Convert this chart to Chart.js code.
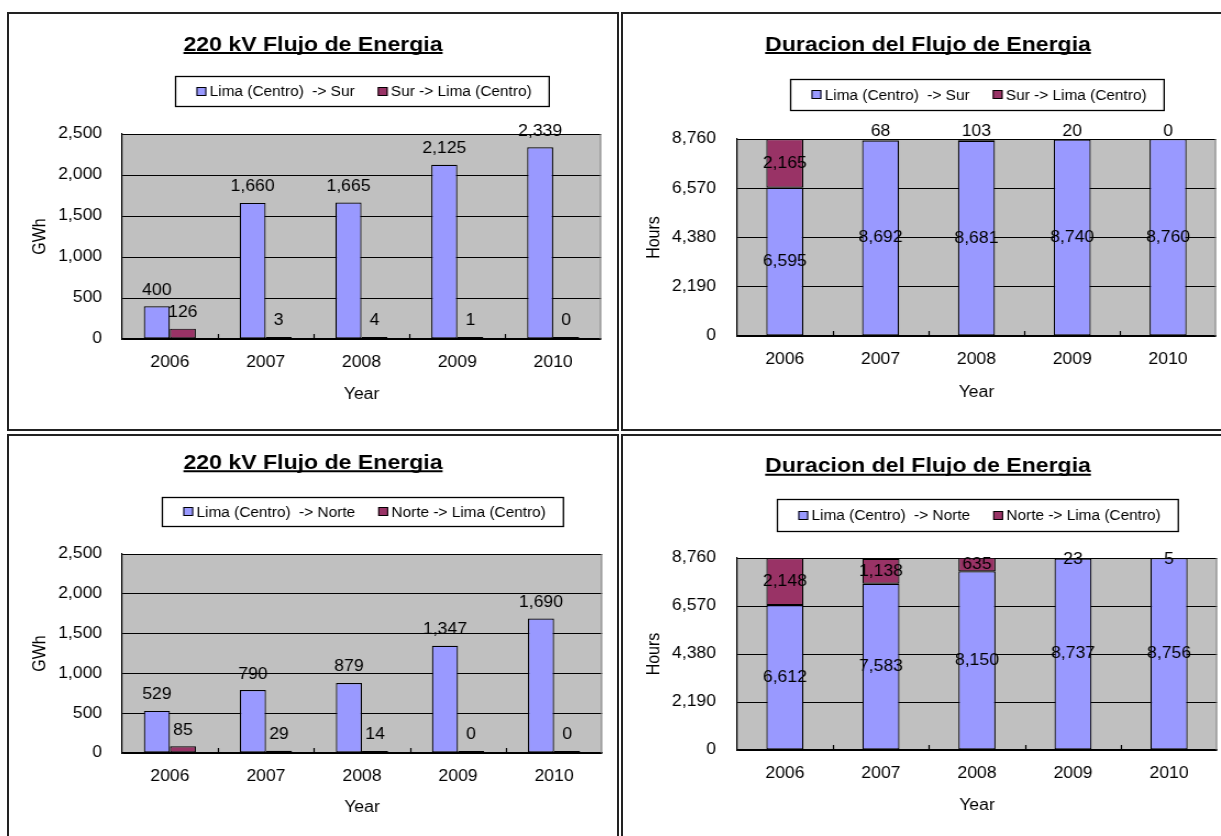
<!DOCTYPE html>
<html>
<head>
<meta charset="utf-8">
<script src="https://cdn.jsdelivr.net/npm/chart.js@4"></script>
<style>
body { margin: 0; background: #fff; width: 1221px; height: 836px; overflow: hidden; position: relative; }
.panel { position: absolute; border: 2px solid #222; box-sizing: border-box; }
canvas { position: absolute; }
</style>
</head>
<body>
<div class="panel" style="left:7px;top:12px;width:612px;height:419px"></div>
<div class="panel" style="left:621px;top:12px;width:614px;height:419px"></div>
<div class="panel" style="left:7px;top:434px;width:612px;height:410px"></div>
<div class="panel" style="left:621px;top:434px;width:614px;height:410px"></div>
<canvas id="c1" width="553" height="415" style="left:9px;top:14px;width:608px;height:415px"></canvas>
<canvas id="c2" width="555" height="415" style="left:623px;top:14px;width:610px;height:415px"></canvas>
<canvas id="c3" width="553" height="400" style="left:9px;top:436px;width:608px;height:400px"></canvas>
<canvas id="c4" width="555" height="400" style="left:623px;top:436px;width:610px;height:400px"></canvas>
<script>
// chart data
const years = ['2006', '2007', '2008', '2009', '2010'];
const limaSurGwh = [400, 1660, 1665, 2125, 2339];
const surLimaGwh = [126, 3, 4, 1, 0];
const limaSurHours = [6595, 8692, 8681, 8740, 8760];
const surLimaHours = [2165, 68, 103, 20, 0];
const limaNorteGwh = [529, 790, 879, 1347, 1690];
const norteLimaGwh = [85, 29, 14, 0, 0];
const limaNorteHours = [6612, 7583, 8150, 8737, 8756];
const norteLimaHours = [2148, 1138, 635, 23, 5];
const gwhTicks = [0, 500, 1000, 1500, 2000, 2500];
const hourTicks = [0, 2190, 4380, 6570, 8760];

const BLUE = '#9999ff';
const RED = '#993366';
const FONT = '"Liberation Sans", Arial, sans-serif';

Chart.defaults.font.family = FONT;
Chart.defaults.color = '#000';

const plotFrame = {
    id: 'plotFrame',
    beforeDraw(chart) {
        const a = chart.chartArea, ctx = chart.ctx;
        ctx.save();
        ctx.fillStyle = '#c0c0c0';
        ctx.fillRect(a.left, a.top, a.right - a.left, a.bottom - a.top);
        ctx.restore();
    },
    beforeDatasetsDraw(chart) {
        const a = chart.chartArea, ctx = chart.ctx, x = chart.scales.x;
        ctx.save();
        ctx.strokeStyle = '#808080';
        ctx.lineWidth = 1;
        ctx.beginPath();
        ctx.moveTo(a.right - 0.5, a.top);
        ctx.lineTo(a.right - 0.5, a.bottom);
        ctx.stroke();
        // small inward ticks between the categories
        ctx.strokeStyle = '#000';
        ctx.lineWidth = 1.2;
        ctx.beginPath();
        for (let i = 1; i < x.ticks.length; i++) {
            const px = Math.round((x.getPixelForTick(i - 1) + x.getPixelForTick(i)) / 2) + 0.5;
            ctx.moveTo(px, a.bottom);
            ctx.lineTo(px, a.bottom - 5);
        }
        ctx.stroke();
        ctx.restore();
    }
};

const valueLabels = {
    id: 'valueLabels',
    afterDatasetsDraw(chart, args, opts) {
        const ctx = chart.ctx;
        ctx.save();
        ctx.font = '16px ' + FONT;
        ctx.fillStyle = '#000';
        ctx.textAlign = 'center';
        ctx.textBaseline = 'middle';
        chart.data.datasets.forEach((ds, i) => {
            chart.getDatasetMeta(i).data.forEach((bar, j) => {
                const txt = ds.data[j].toLocaleString('en-US');
                let y;
                if (opts.stacked) {
                    const top = Math.min(bar.y, bar.base), bottom = Math.max(bar.y, bar.base);
                    y = (top + bottom) / 2;
                    if (bottom - top < 6) y = top - opts.lift;
                } else {
                    y = bar.y - 16;
                }
                ctx.fillText(txt, bar.x, y);
            });
        });
        ctx.restore();
    }
};

const boxLegend = {
    id: 'boxLegend',
    afterDraw(chart, args, opts) {
        const ctx = chart.ctx, a = chart.chartArea;
        const ds = chart.data.datasets;
        ctx.save();
        ctx.font = '14px ' + FONT;
        const w = ds.map(d => ctx.measureText(d.label).width);
        const sq = 9, padL = 19, gapText = 3, gapItem = 21, padR = 16;
        const total = padL + sq + gapText + w[0] + gapItem + sq + gapText + w[1] + padR;
        const left = Math.round((a.left + a.right) / 2 - total / 2) + 0.5;
        const top = a.top + opts.top + 0.5, bottom = a.top + opts.bottom + 0.5;
        ctx.fillStyle = '#fff';
        ctx.fillRect(left, top, total, bottom - top);
        ctx.strokeStyle = '#000';
        ctx.lineWidth = 1.3;
        ctx.strokeRect(left, top, total, bottom - top);
        const cy = (top + bottom) / 2;
        let x = left + padL;
        ds.forEach((d, i) => {
            ctx.fillStyle = d.backgroundColor;
            ctx.fillRect(x, Math.round(cy - 5), sq, 9);
            ctx.strokeStyle = '#000';
            ctx.lineWidth = 1;
            ctx.strokeRect(x + 0.5, Math.round(cy - 5) + 0.5, sq - 1, 8);
            x += sq + gapText;
            ctx.fillStyle = '#000';
            ctx.textAlign = 'left';
            ctx.textBaseline = 'middle';
            ctx.fillText(d.label, x, cy + 1);
            x += w[i] + gapItem;
        });
        ctx.restore();
    }
};

const titleUnderline = {
    id: 'titleUnderline',
    afterDraw(chart) {
        const t = chart.options.plugins.title, ctx = chart.ctx;
        const font = Chart.helpers.toFont(t.font);
        ctx.save();
        ctx.font = font.string;
        const w = ctx.measureText(t.text).width;
        const cx = chart.width / 2;
        const y = t.padding.top + font.lineHeight / 2 + 8;
        ctx.strokeStyle = '#000';
        ctx.lineWidth = 2;
        ctx.beginPath();
        ctx.moveTo(cx - w / 2, y);
        ctx.lineTo(cx + w / 2, y);
        ctx.stroke();
        ctx.restore();
    }
};

function makeChart(id, c) {
    const grouped = !c.stacked;
    return new Chart(document.getElementById(id), {
        type: 'bar',
        data: {
            labels: years,
            datasets: [{
                label: c.names[0],
                data: c.values[0],
                backgroundColor: BLUE,
                borderColor: '#000',
                borderWidth: 1.2,
                borderSkipped: false
            }, {
                label: c.names[1],
                data: c.values[1],
                backgroundColor: RED,
                borderColor: '#000',
                borderWidth: 1.2,
                borderSkipped: false,
                minBarLength: grouped ? 2 : 0
            }]
        },
        options: {
            responsive: false,
            animation: false,
            devicePixelRatio: 1,
            datasets: {
                bar: {
                    categoryPercentage: grouped ? 0.543 : 0.386,
                    barPercentage: 1
                }
            },
            layout: { padding: { left: c.side, right: c.side, top: 0, bottom: 0 } },
            scales: {
                x: {
                    stacked: c.stacked,
                    grid: { display: false, drawTicks: false },
                    border: { color: '#000', width: 1.2 },
                    ticks: { color: '#000', font: { size: 16 }, padding: 14, maxRotation: 0 },
                    title: { display: true, text: 'Year', color: '#000', font: { size: 16 }, padding: { top: 0, bottom: c.yearPad } },
                    afterFit: s => { s.height = c.xHeight; }
                },
                y: {
                    stacked: c.stacked,
                    min: 0,
                    max: c.ticks[c.ticks.length - 1],
                    afterBuildTicks: s => { s.ticks = c.ticks.map(v => ({ value: v })); },
                    grid: { color: '#000', drawTicks: false },
                    border: { color: '#000', width: 1.2 },
                    ticks: { color: '#000', font: { size: 16 }, padding: c.tickPad, callback: v => v.toLocaleString('en-US') },
                    title: { display: true, text: c.unit, color: '#000', font: { size: 16 }, padding: { top: c.unitPad, bottom: 0 } },
                    afterFit: s => { s.width = c.yWidth; }
                }
            },
            plugins: {
                legend: { display: false },
                tooltip: { enabled: false },
                title: {
                    display: true,
                    text: c.title,
                    color: '#000',
                    font: { size: 21, weight: 'bold' },
                    padding: { top: c.titleTop, bottom: c.titleBottom }
                },
                valueLabels: { stacked: c.stacked, lift: c.lift || 0 },
                boxLegend: { top: c.legend[0], bottom: c.legend[1] }
            }
        },
        plugins: [plotFrame, valueLabels, boxLegend, titleUnderline]
    });
}

makeChart('c1', {
    title: '220 kV Flujo de Energia', unit: 'GWh', stacked: false,
    names: ['Lima (Centro)  -> Sur', 'Sur -> Lima (Centro)'],
    values: [limaSurGwh, surLimaGwh], ticks: gwhTicks,
    side: 14.5, yWidth: 88.2, unitPad: 4.1, tickPad: 18,
    titleTop: 18.4, titleBottom: 76.4, xHeight: 90, yearPad: 24.4, legend: [-58, -28]
});
makeChart('c2', {
    title: 'Duracion del Flujo de Energia', unit: 'Hours', stacked: true, lift: 7,
    names: ['Lima (Centro)  -> Sur', 'Sur -> Lima (Centro)'],
    values: [limaSurHours, surLimaHours], ticks: hourTicks,
    side: 15.5, yWidth: 88.1, unitPad: 3.1, tickPad: 19,
    titleTop: 18.4, titleBottom: 81.4, xHeight: 93, yearPad: 26.4, legend: [-60, -29]
});
makeChart('c3', {
    title: '220 kV Flujo de Energia', unit: 'GWh', stacked: false,
    names: ['Lima (Centro)  -> Norte', 'Norte -> Lima (Centro)'],
    values: [limaNorteGwh, norteLimaGwh], ticks: gwhTicks,
    side: 13.6, yWidth: 89.1, unitPad: 5, tickPad: 18,
    titleTop: 14.7, titleBottom: 78.1, xHeight: 83, yearPad: 18.4, legend: [-57, -28]
});
makeChart('c4', {
    title: 'Duracion del Flujo de Energia', unit: 'Hours', stacked: true, lift: -2,
    names: ['Lima (Centro)  -> Norte', 'Norte -> Lima (Centro)'],
    values: [limaNorteHours, norteLimaHours], ticks: hourTicks,
    side: 14.5, yWidth: 89.1, unitPad: 4.1, tickPad: 19,
    titleTop: 18.1, titleBottom: 78.7, xHeight: 86, yearPad: 20.4, legend: [-59, -27]
});
</script>
</body>
</html>
